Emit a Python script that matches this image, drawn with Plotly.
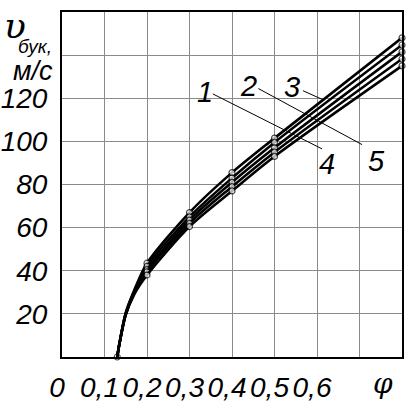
import plotly.graph_objects as go

# ---- data ----
phi = [0.13, 0.135, 0.15, 0.17, 0.2, 0.3, 0.4, 0.5, 0.8]
curve_1 = [0, 6, 20.5, 31.0, 43.5, 67.0, 85.5, 101.5, 148.0]
curve_2 = [0, 6, 20.3, 30.5, 42.0, 65.0, 83.0, 99.5, 144.7]
curve_3 = [0, 6, 20.0, 30.0, 40.5, 63.5, 81.0, 97.0, 141.5]
curve_4 = [0, 6, 19.7, 29.5, 39.5, 62.0, 79.0, 95.0, 138.2]
curve_5 = [0, 6, 19.5, 29.0, 38.0, 60.5, 77.0, 93.0, 135.0]
curve_names = ["1", "2", "3", "4", "5"]

x_tickvals = [0, 0.1, 0.2, 0.3, 0.4, 0.5, 0.6, 0.7, 0.8]
x_ticktext = ["0", "0,1", "0,2", "0,3", "0,4", "0,5", "0,6", "", ""]
y_tickvals = [20, 40, 60, 80, 100, 120, 140]
y_ticktext = ["20", "40", "60", "80", "100", "120", ""]

# curve labels and leader lines
label_x = [0.336, 0.438, 0.541, 0.624, 0.741]
label_y = [123.0, 125.5, 125.0, 89.5, 91.0]
leader_1_x = [0.355, 0.612]
leader_1_y = [122.0, 96.5]
leader_2_x = [0.462, 0.706]
leader_2_y = [124.5, 98.5]
leader_3_x = [0.567, 0.612]
leader_3_y = [123.5, 119.5]

FONT = "Liberation Sans, Arial, sans-serif"

fig = go.Figure()

curves = [curve_1, curve_2, curve_3, curve_4, curve_5]
for i, c in enumerate(curves):
    sizes = [6 if (k >= 4 or (k == 0 and i == 0)) else 0 for k in range(len(phi))]
    fig.add_trace(go.Scatter(
        x=phi, y=c, mode="lines+markers", name=curve_names[i],
        line=dict(color="black", width=2.6, shape="spline", smoothing=0.8),
        marker=dict(size=sizes, color="white", line=dict(color="black", width=1.2)),
        showlegend=False, cliponaxis=False, hoverinfo="skip"))

for lx, ly in [(leader_1_x, leader_1_y), (leader_2_x, leader_2_y), (leader_3_x, leader_3_y)]:
    fig.add_trace(go.Scatter(x=lx, y=ly, mode="lines", hoverinfo="skip",
                             line=dict(color="black", width=1), showlegend=False))

for t, x, y in zip(curve_names, label_x, label_y):
    fig.add_annotation(x=x, y=y, text=t, showarrow=False,
                       font=dict(family=FONT, size=29, color="black", style="italic"))

fig.add_annotation(x=0.755, y=0, yref="y", text="φ", showarrow=False, yshift=-26,
                   font=dict(family="DejaVu Serif", size=28, color="black", style="italic"))

# axis title
fig.add_annotation(xref="paper", yref="paper", x=-0.138, y=0.962, text="υ",
                   showarrow=False, xanchor="center", yanchor="middle",
                   font=dict(family="DejaVu Serif", size=36, color="black", style="italic"))
fig.add_annotation(xref="paper", yref="paper", x=-0.078, y=0.9, text="бук,",
                   showarrow=False, xanchor="center", yanchor="middle",
                   font=dict(family=FONT, size=19, color="black", style="italic"))
fig.add_annotation(xref="paper", yref="paper", x=-0.085, y=0.828, text="м/с",
                   showarrow=False, xanchor="center", yanchor="middle",
                   font=dict(family=FONT, size=27, color="black", style="italic"))

fig.update_layout(
    width=408, height=407,
    margin=dict(l=62, r=6, t=12, b=50),
    paper_bgcolor="white", plot_bgcolor="white",
    xaxis=dict(range=[0, 0.8], tickvals=x_tickvals, ticktext=x_ticktext,
               showgrid=True, gridcolor="#8a8a8a", gridwidth=1,
               showline=True, linecolor="black", linewidth=2, mirror=True,
               ticks="", tickangle=0, automargin=False,
               ticklabelshift=-5, ticklabelstandoff=4, zeroline=False,
               tickfont=dict(family=FONT, size=28, color="black", style="italic")),
    yaxis=dict(range=[0, 160], tickvals=y_tickvals, ticktext=y_ticktext,
               showgrid=True, gridcolor="#8a8a8a", gridwidth=1,
               showline=True, linecolor="black", linewidth=2, mirror=True,
               ticks="", ticklabelstandoff=7, automargin=False, zeroline=False,
               tickfont=dict(family=FONT, size=28, color="black", style="italic")),
)

# remove the page's default body margin so the figure sits at the window's corner
fig.write_html("out.html", config={"displayModeBar": False},
               post_script="document.body.style.margin='0';document.body.style.overflow='hidden';")
